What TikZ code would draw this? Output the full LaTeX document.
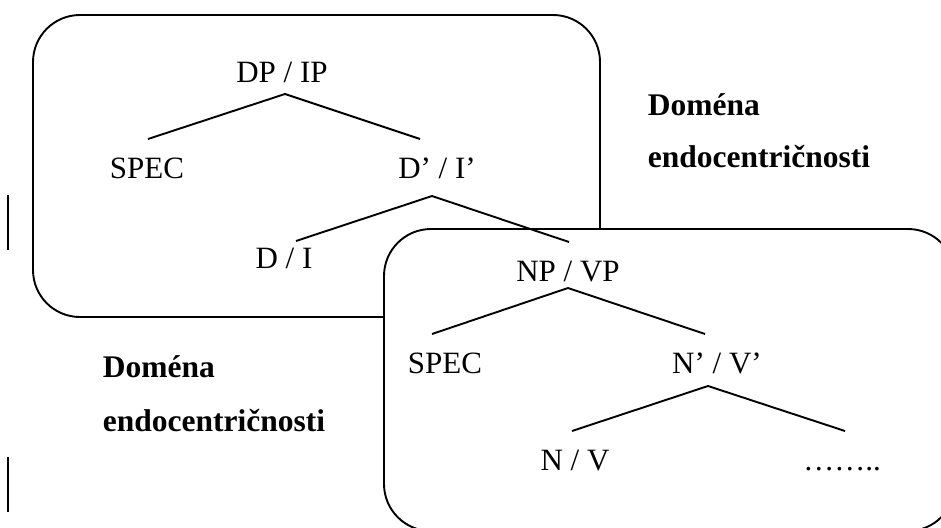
\documentclass[tikz,border=0pt]{standalone}
\usepackage{fontspec}
\setmainfont{Liberation Serif}
\begin{document}
\begin{tikzpicture}[x=1pt,y=-1pt,line width=1.9pt,
		cat/.style={anchor=base,inner sep=0pt,font=\fontsize{31}{36}\selectfont},
		dom/.style={anchor=base west,inner sep=0pt,font=\fontsize{31.5}{36}\selectfont\bfseries},
		box/.style={draw,rounded corners=47pt}]
		\clip (0,0) rectangle (941,527);
		
		% the two domains
		\draw[box] (33,15) rectangle (600,317);
		\draw[box,fill=white] (384,229) rectangle (955,531);
		
		\draw (8,195) -- (8,250);
		\draw (8,457) -- (8,512);
		
		% upper tree
		\node[cat] (dpip)  at (282,82)  {DP / IP};
		\node[cat] (spec1) at (147,178) {SPEC};
		\node[cat] (dbar)  at (437,178) {D’ / I’};
		\node[cat] (di)    at (284,268) {D / I};
		
		% lower tree
		\node[cat] (npvp)  at (568,281) {NP / VP};
		\node[cat] (spec2) at (445,373) {SPEC};
		\node[cat] (nbar)  at (717,373) {N’ / V’};
		\node[cat] (nv)    at (575,470) {N / V};
		\node[cat] (dots)  at (842,470) {……..};
		
		\node[dom] (dom1)  at (647,115) {Doména};
		\node[dom] (endo1) at (647,167) {endocentričnosti};
		\node[dom] (dom2)  at (102,377) {Doména};
		\node[dom] (endo2) at (102,431) {endocentričnosti};
		
		\draw ([xshift=1pt,yshift=39pt]spec1.base) -- ([xshift=3pt,yshift=-12pt]dpip.base)
			-- ([xshift=-17pt,yshift=39pt]dbar.base);
		\draw ([xshift=12pt,yshift=27pt]di.base) -- ([xshift=-5pt,yshift=-18pt]dbar.base)
			-- ([xshift=1pt,yshift=39pt]npvp.base);
		\draw ([xshift=-13pt,yshift=39pt]spec2.base) -- ([yshift=-7pt]npvp.base)
			-- ([xshift=-12pt,yshift=39pt]nbar.base);
		\draw ([xshift=-3pt,yshift=39pt]nv.base) -- ([xshift=-9pt,yshift=-13pt]nbar.base)
			-- ([xshift=3pt,yshift=39pt]dots.base);
\end{tikzpicture}
\end{document}
